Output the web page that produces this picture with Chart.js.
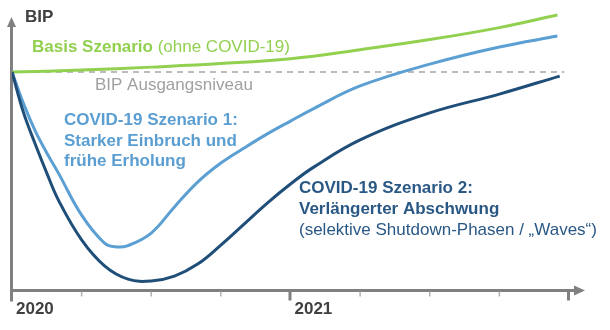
<!DOCTYPE html>
<html lang="de">
<head>
<meta charset="utf-8">
<title>BIP Szenarien COVID-19</title>
<script src="https://cdn.jsdelivr.net/npm/chart.js@4.4.0/dist/chart.umd.min.js"></script>
<style>
    html, body { margin: 0; padding: 0; background: #FFFFFF; }
    #wrap { width: 610px; height: 330px; }
</style>
</head>
<body>
<div id="wrap"><canvas id="bipChart" width="610" height="330"></canvas></div>
<script>
// Zeitachse in Monaten ab Januar 2020 (12 = Januar 2021), BIP als Index (100 = Ausgangsniveau)
const basisMonths = [0, 3, 6, 9, 12, 15, 18, 21, 23.5];
const basisValues = [100, 100.7, 101.8, 103.1, 104.9, 108.2, 111.9, 116.3, 120.9];

const scen1Months = [0, 0.5, 1, 1.5, 2, 3, 4, 4.5, 5, 6, 7, 8, 9, 10, 11, 12, 13, 15, 18, 21, 23.5];
const scen1Values = [100, 88.3, 78.4, 70.3, 62.9, 47.5, 37.1, 35.8, 36.3, 40.9, 50.5, 59.6, 66.6, 72.1, 77.3, 82.0, 86.6, 94.9, 102.9, 109.2, 113.2];

const scen2Months = [0, 0.5, 1, 1.5, 2, 3, 4, 5, 6, 7, 8, 9, 10, 11, 12, 13, 15, 18, 21, 23.6];
const scen2Values = [100, 85.0, 73.6, 62.9, 53.0, 38.4, 28.8, 24.0, 23.3, 25.1, 29.5, 36.5, 44.2, 51.9, 58.9, 65.1, 75.1, 85.0, 91.9, 98.5];

const baselineMonths = [0, 23.8];
const baselineValues = [100, 100];

// Achsenteilung: Quartale als Striche, Jahre als Beschriftung
const quarterTicks = [0, 3, 6, 9, 12, 15, 18, 21, 24];
const yearTicks = [0, 12];
const yearLabels = ['2020', '2021'];

// Farben
const theme = {
    green: '#92D050',
    lightBlue: '#5B9FD3',
    lightBlueText: '#5A9ED2',
    darkBlue: '#1F4E79',
    darkBlueText: '#2A5885',
    axis: '#808080',
    minorTick: '#B0B0B0',
    baseline: '#A6A6A6',
    text: '#404040'
};
const fontFamily = "'Liberation Sans', Arial, sans-serif";

function toPoints(xs, ys) {
    return xs.map((x, i) => ({ x: x, y: ys[i] }));
}

// Achsen mit Pfeilspitzen und Quartalsstrichen
const axisPlugin = {
    id: 'axisArrows',
    beforeDatasetsDraw(chart) {
        const { ctx, chartArea, scales } = chart;
        const x0 = chartArea.left - 0.5;
        const y0 = chartArea.bottom + 0.5;
        ctx.save();
        ctx.strokeStyle = theme.axis;
        ctx.fillStyle = theme.axis;
        ctx.lineWidth = 3;

        // y-Achse
        ctx.beginPath();
        ctx.moveTo(x0, y0 + 11);
        ctx.lineTo(x0, chartArea.top + 19);
        ctx.stroke();
        ctx.beginPath();
        ctx.moveTo(x0 - 4.5, chartArea.top + 19);
        ctx.lineTo(x0 + 4.5, chartArea.top + 19);
        ctx.lineTo(x0, chartArea.top + 9);
        ctx.closePath();
        ctx.fill();

        // x-Achse
        ctx.beginPath();
        ctx.moveTo(x0 - 1.5, y0);
        ctx.lineTo(chartArea.right - 10, y0);
        ctx.stroke();
        ctx.beginPath();
        ctx.moveTo(chartArea.right - 11, y0 - 5);
        ctx.lineTo(chartArea.right - 11, y0 + 5);
        ctx.lineTo(chartArea.right, y0);
        ctx.closePath();
        ctx.fill();

        // Quartalsstriche
        quarterTicks.forEach(q => {
            const px = scales.x.getPixelForValue(q);
            const major = q % 12 === 0;
            ctx.beginPath();
            ctx.lineWidth = major ? 3 : 1.5;
            ctx.strokeStyle = major ? theme.axis : theme.minorTick;
            ctx.moveTo(major ? px - 0.5 : px, y0 + 1);
            ctx.lineTo(major ? px - 0.5 : px, y0 + (major ? 10 : 6));
            ctx.stroke();
        });
        ctx.restore();
    }
};

// Beschriftungen im Diagramm
const labelPlugin = {
    id: 'scenarioLabels',
    afterDraw(chart) {
        const ctx = chart.ctx;
        ctx.save();
        ctx.textAlign = 'left';
        ctx.textBaseline = 'alphabetic';

        ctx.fillStyle = theme.text;
        ctx.font = `bold 17px ${fontFamily}`;
        ctx.fillText('BIP', 25, 22);

        ctx.fillStyle = theme.green;
        ctx.font = `bold 17px ${fontFamily}`;
        ctx.fillText('Basis Szenario', 32, 52);
        const w = ctx.measureText('Basis Szenario ').width;
        ctx.font = `17px ${fontFamily}`;
        ctx.fillText('(ohne COVID-19)', 32 + w, 52);

        ctx.fillStyle = '#A0A0A0';
        ctx.fillText('BIP Ausgangsniveau', 95, 90);

        ctx.fillStyle = theme.lightBlueText;
        ctx.font = `bold 17px ${fontFamily}`;
        ctx.fillText('COVID-19 Szenario 1:', 64, 125);
        ctx.fillText('Starker Einbruch und', 64, 145.5);
        ctx.fillText('frühe Erholung', 64, 166);

        ctx.fillStyle = theme.darkBlueText;
        ctx.fillText('COVID-19 Szenario 2:', 299, 193);
        ctx.fillText('Verlängerter Abschwung', 299, 214);
        ctx.font = `17px ${fontFamily}`;
        ctx.fillText('(selektive Shutdown-Phasen / \u201EWaves\u201C)', 299, 235);
        ctx.restore();
    }
};

function lineDataset(label, points, color, order) {
    return {
        label: label,
        data: points,
        borderColor: color,
        borderWidth: 3,
        pointRadius: 0,
        fill: false,
        tension: 0.4,
        order: order
    };
}

const ctx = document.getElementById('bipChart').getContext('2d');
const bipChart = new Chart(ctx, {
    type: 'line',
    data: {
        datasets: [
            {
                label: 'BIP Ausgangsniveau',
                data: toPoints(baselineMonths, baselineValues),
                borderColor: theme.baseline,
                borderWidth: 1.5,
                borderDash: [6, 5],
                pointRadius: 0,
                fill: false,
                order: 4
            },
            lineDataset('Basis Szenario', toPoints(basisMonths, basisValues), theme.green, 3),
            lineDataset('COVID-19 Szenario 1', toPoints(scen1Months, scen1Values), theme.lightBlue, 2),
            lineDataset('COVID-19 Szenario 2', toPoints(scen2Months, scen2Values), theme.darkBlue, 1)
        ]
    },
    options: {
        responsive: false,
        animation: false,
        layout: {
            padding: { left: 12, right: 25, top: 8, bottom: 0 }
        },
        plugins: {
            legend: { display: false },
            tooltip: { enabled: false }
        },
        scales: {
            x: {
                type: 'linear',
                min: 0,
                max: 24.69,
                afterBuildTicks: scale => {
                    scale.ticks = yearTicks.map(v => ({ value: v }));
                },
                afterFit: scale => {
                    scale.height = 40;
                },
                grid: { display: false, drawTicks: false },
                border: { display: false },
                ticks: {
                    align: 'start',
                    labelOffset: 4,
                    padding: 9,
                    autoSkip: false,
                    maxRotation: 0,
                    color: theme.text,
                    font: { size: 17, weight: 'bold', family: fontFamily },
                    callback: value => {
                        const i = yearTicks.indexOf(value);
                        return i >= 0 ? yearLabels[i] : '';
                    }
                }
            },
            y: {
                display: false,
                min: 20,
                max: 123.5
            }
        }
    },
    plugins: [axisPlugin, labelPlugin]
});
</script>
</body>
</html>
